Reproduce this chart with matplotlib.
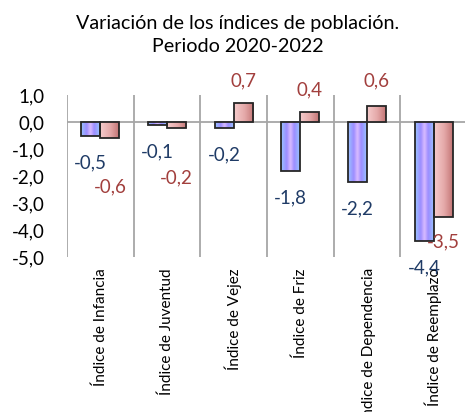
import matplotlib
matplotlib.use("Agg")
import matplotlib.pyplot as plt
import numpy as np
from matplotlib.colors import LinearSegmentedColormap

plt.rcParams["font.family"] = ["Lato", "DejaVu Sans"]

categorias = [
    "Índice de Infancia",
    "Índice de Juventud",
    "Índice de Vejez",
    "Índice de Friz",
    "Índice de Dependencia",
    "Índice de Reemplazo",
]
serie_a = [-0.5, -0.1, -0.2, -1.8, -2.2, -4.4]
serie_b = [-0.6, -0.2, 0.7, 0.4, 0.6, -3.5]
yticks = [1.0, 0.0, -1.0, -2.0, -3.0, -4.0, -5.0]

# where each value label sits, relative to its bar end (data units)
desfase_a = [-1.0, -1.0, -1.0, -1.0, -1.0, -1.0]
desfase_b = [-1.8, -1.85, 0.85, 0.82, 0.95, -0.95]

AZUL_TXT = "#1f3b66"
ROJO_TXT = "#a23f3d"

cmap_a = LinearSegmentedColormap.from_list(
    "azul", [(0, "#99c4ff"), (0.3, "#9c8cff"), (0.5, "#dbbdff"), (0.7, "#9c8cff"), (1, "#99c4ff")]
)
cmap_b = LinearSegmentedColormap.from_list("rojo", [(0, "#f6cccc"), (0.55, "#e4a8a8"), (1, "#c47676")])


def fmt(v):
    return f"{v:.1f}".replace(".", ",")


def gradient_bars(ax, bars, cmap):
    grad = np.linspace(0, 1, 64).reshape(1, -1)
    for b in bars:
        x, y = b.get_x(), b.get_y()
        w, h = b.get_width(), b.get_height()
        im = ax.imshow(grad, cmap=cmap, aspect="auto", extent=[x, x + w, y, y + h],
                       interpolation="bicubic", zorder=2)
        im.set_clip_path(b)


fig = plt.figure(figsize=(4.65, 4.12), dpi=100)
ax = fig.add_axes([67 / 465, (412 - 257) / 412, 1 - 67 / 465, (257 - 95.4) / 412])

x = np.arange(len(categorias))
ancho = 0.285
barras_a = ax.bar(x - ancho / 2, serie_a, ancho, facecolor="none", edgecolor="#262626",
                  linewidth=1.3, zorder=3)
barras_b = ax.bar(x + ancho / 2, serie_b, ancho, facecolor="none", edgecolor="#262626",
                  linewidth=1.3, zorder=3)
gradient_bars(ax, barras_a, cmap_a)
gradient_bars(ax, barras_b, cmap_b)

for i, v in enumerate(serie_a):
    ax.text(x[i] - ancho / 2, v + desfase_a[i], fmt(v), ha="center", va="center",
            color=AZUL_TXT, fontsize=13.5, zorder=5)
for i, v in enumerate(serie_b):
    ax.text(x[i] + ancho / 2, v + desfase_b[i], fmt(v), ha="center", va="center",
            color=ROJO_TXT, fontsize=13.5, zorder=5)

ax.set_xlim(-0.5, 5.47)
ax.set_ylim(-5, 1)
ax.axhline(0, color="#a6a6a6", linewidth=1.3, zorder=1)

ax.set_xticks(x)
ax.set_xticklabels(categorias, rotation=90, fontsize=11)
ax.set_xticks(np.arange(-0.5, 5, 1.0), minor=True)
ax.grid(which="minor", axis="x", color="#a6a6a6", linewidth=1.3)
ax.tick_params(axis="x", which="both", length=0, pad=8)

ax.set_yticks(yticks)
ax.set_yticklabels([fmt(t) for t in yticks], fontsize=13.5)
ax.tick_params(axis="y", length=0, pad=16)

for s in ax.spines.values():
    s.set_visible(False)
ax.set_axisbelow(True)

fig.text(238 / 465, 1 - 35 / 412, "Variación de los índices de población.\nPeriodo 2020-2022",
         ha="center", va="center", fontsize=14.2, linespacing=1.45)

fig.savefig("out.png", dpi=100)
